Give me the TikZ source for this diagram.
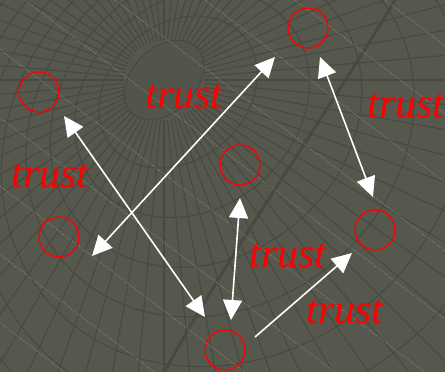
\documentclass[tikz,border=0pt]{standalone}
\usepackage{fontspec}
\setmainfont{Liberation Serif}
\usetikzlibrary{arrows.meta,calc}
\definecolor{bgcol}{RGB}{86,87,77}
\definecolor{gridcol}{RGB}{72,73,64}
\definecolor{dotcol}{RGB}{150,150,140}
\definecolor{trustred}{RGB}{255,0,0}

\begin{document}
\begin{tikzpicture}[x=1pt,y=-1pt,
  peer/.style={circle,draw=trustred,line width=1.3pt,minimum size=40pt,inner sep=0pt},
  link/.style={draw=white,line width=1.6pt,{Triangle[length=20pt,width=19pt]}-{Triangle[length=20pt,width=19pt]}},
  oneway/.style={draw=white,line width=1.6pt,-{Triangle[length=20pt,width=19pt]}},
  lbl/.style={text=trustred,font=\fontsize{42}{42}\selectfont\itshape,inner sep=0pt,anchor=base},
  web/.style={draw=gridcol,line width=1.1pt}]
% background web
\fill[bgcol] (0,0) rectangle (445,372);
\begin{scope}
  \clip (0,0) rectangle (445,372);
  \foreach \a in {0,5,...,355}
    \draw[web] (164,80) ++(\a:40) -- ++(\a:700);
  \foreach \i in {1,...,9}
    \draw[web] (164+14*\i,80+12*\i) ellipse[x radius=46+40*\i,y radius=32+36*\i,rotate=40];
  \filldraw[fill=bgcol!97!black,web] (164,80) ellipse[x radius=46,y radius=32,rotate=45];
  \draw[draw=gridcol,line width=3pt] (398,-5) .. controls (330,110) and (230,250) .. (160,380);
  \foreach \k in {-1,...,8}
    \draw[dotcol,line width=0.6pt,dash pattern=on 0.8pt off 1.4pt] (-335+90*\k,0) -- ++(600,456);
\end{scope}
% peers
\node[peer] (a) at (39,92) {};
\node[peer] (b) at (59,237) {};
\node[peer] (c) at (308,28) {};
\node[peer] (d) at (240,165) {};
\node[peer] (e) at (375,230) {};
\node[peer] (f) at (225,350) {};
% trust links
\draw[link] ($(a)+(25,24)$) -- ($(f)+(-20,-33)$);
\draw[link] ($(b)+(33,19)$) -- ($(c)+(-33,29)$);
\draw[link] ($(c)+(12,29)$) -- ($(e)+(-2,-33)$);
\draw[link] ($(d)+(0,33)$) -- ($(f)+(6,-30)$);
\draw[oneway] ($(f)+(30,-13)$) -- ($(e)+(-23,23)$);
% labels
\node[lbl] (t1) at (184,108) {trust};
\node[lbl] (t2) at (50,187) {trust};
\node[lbl] (t3) at (406,117) {trust};
\node[lbl] (t4) at (288,267) {trust};
\node[lbl] (t5) at (345,323) {trust};
\end{tikzpicture}
\end{document}
